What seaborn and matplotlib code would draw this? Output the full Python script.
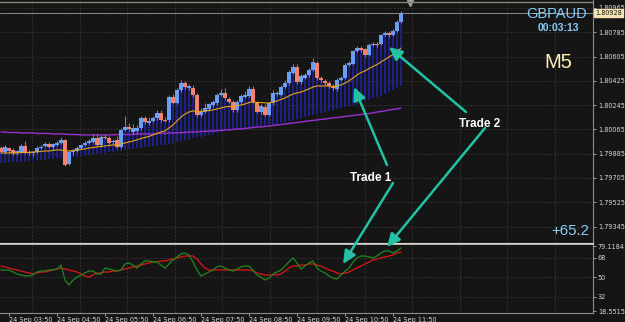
import numpy as np
import pandas as pd
import seaborn as sns
import matplotlib.pyplot as plt
from matplotlib.patches import FancyArrowPatch
from matplotlib.lines import Line2D
from matplotlib.transforms import blended_transform_factory

# GBPAUD M5 candles, 24 Sep 03:40 .. 12:00
opens = [1.79927, 1.79898, 1.79927, 1.79913, 1.79890, 1.79898, 1.79942, 1.79898, 1.79890, 1.79898,
         1.79927, 1.79942, 1.79957, 1.79935, 1.79950, 1.79964, 1.79987, 1.79809, 1.79898, 1.79905,
         1.79927, 1.79950, 1.79964, 1.79972, 1.80001, 1.79950, 1.80009, 1.80001, 1.79972, 1.79987,
         1.79935, 1.80061, 1.80083, 1.80046, 1.80053, 1.80076, 1.80150, 1.80113, 1.80128, 1.80150,
         1.80187, 1.80135, 1.80135, 1.80305, 1.80261, 1.80357, 1.80409, 1.80372, 1.80372, 1.80320,
         1.80172, 1.80194, 1.80216, 1.80246, 1.80261, 1.80320, 1.80335, 1.80290, 1.80268, 1.80209,
         1.80268, 1.80305, 1.80313, 1.80365, 1.80261, 1.80194, 1.80231, 1.80172, 1.80261, 1.80327,
         1.80320, 1.80379, 1.80409, 1.80483, 1.80528, 1.80416, 1.80446, 1.80468, 1.80505, 1.80557,
         1.80446, 1.80424, 1.80409, 1.80387, 1.80365, 1.80431, 1.80446, 1.80542, 1.80550, 1.80646,
         1.80668, 1.80661, 1.80616, 1.80691, 1.80698, 1.80698, 1.80765, 1.80780, 1.80765, 1.80794,
         1.80861]
closes = [1.79898, 1.79935, 1.79905, 1.79890, 1.79905, 1.79942, 1.79890, 1.79890, 1.79898, 1.79927,
          1.79935, 1.79957, 1.79935, 1.79957, 1.79964, 1.79987, 1.79801, 1.79898, 1.79905, 1.79927,
          1.79950, 1.79964, 1.79979, 1.80001, 1.79950, 1.80009, 1.80001, 1.79964, 1.79979, 1.79935,
          1.80061, 1.80083, 1.80068, 1.80076, 1.80076, 1.80150, 1.80120, 1.80128, 1.80150, 1.80187,
          1.80135, 1.80128, 1.80305, 1.80261, 1.80357, 1.80409, 1.80379, 1.80387, 1.80320, 1.80172,
          1.80194, 1.80224, 1.80253, 1.80268, 1.80320, 1.80335, 1.80298, 1.80268, 1.80209, 1.80268,
          1.80313, 1.80320, 1.80365, 1.80268, 1.80194, 1.80239, 1.80172, 1.80261, 1.80335, 1.80335,
          1.80379, 1.80409, 1.80491, 1.80528, 1.80416, 1.80461, 1.80468, 1.80505, 1.80565, 1.80446,
          1.80431, 1.80409, 1.80387, 1.80372, 1.80431, 1.80446, 1.80542, 1.80557, 1.80646, 1.80668,
          1.80654, 1.80616, 1.80691, 1.80698, 1.80691, 1.80765, 1.80780, 1.80765, 1.80794, 1.80861,
          1.80928]
highs = [1.79942, 1.79950, 1.79935, 1.79927, 1.79913, 1.79957, 1.79979, 1.79913, 1.79905, 1.79942,
         1.79950, 1.79972, 1.79972, 1.79964, 1.79979, 1.80009, 1.79994, 1.79913, 1.79920, 1.79942,
         1.79957, 1.79979, 1.79994, 1.80031, 1.80031, 1.80024, 1.80031, 1.80016, 1.79994, 1.80016,
         1.80076, 1.80164, 1.80113, 1.80105, 1.80098, 1.80164, 1.80164, 1.80157, 1.80164, 1.80209,
         1.80209, 1.80157, 1.80320, 1.80327, 1.80372, 1.80431, 1.80424, 1.80402, 1.80394, 1.80335,
         1.80224, 1.80261, 1.80261, 1.80283, 1.80335, 1.80365, 1.80372, 1.80305, 1.80283, 1.80283,
         1.80327, 1.80350, 1.80387, 1.80387, 1.80276, 1.80253, 1.80253, 1.80268, 1.80357, 1.80350,
         1.80394, 1.80431, 1.80505, 1.80550, 1.80550, 1.80476, 1.80483, 1.80520, 1.80594, 1.80572,
         1.80461, 1.80439, 1.80424, 1.80402, 1.80446, 1.80461, 1.80557, 1.80572, 1.80654, 1.80683,
         1.80683, 1.80668, 1.80705, 1.80713, 1.80713, 1.80772, 1.80794, 1.80794, 1.80809, 1.80876,
         1.80943]
lows = [1.79890, 1.79883, 1.79890, 1.79876, 1.79876, 1.79890, 1.79883, 1.79876, 1.79868, 1.79890,
        1.79920, 1.79935, 1.79927, 1.79920, 1.79942, 1.79957, 1.79794, 1.79801, 1.79876, 1.79898,
        1.79920, 1.79942, 1.79957, 1.79964, 1.79942, 1.79935, 1.79994, 1.79957, 1.79957, 1.79927,
        1.79927, 1.80053, 1.80053, 1.80031, 1.80039, 1.80061, 1.80105, 1.80098, 1.80120, 1.80135,
        1.80120, 1.80120, 1.80120, 1.80253, 1.80253, 1.80342, 1.80365, 1.80357, 1.80305, 1.80157,
        1.80157, 1.80187, 1.80202, 1.80231, 1.80246, 1.80313, 1.80283, 1.80261, 1.80194, 1.80194,
        1.80261, 1.80298, 1.80305, 1.80261, 1.80187, 1.80179, 1.80164, 1.80164, 1.80246, 1.80313,
        1.80313, 1.80372, 1.80394, 1.80476, 1.80402, 1.80402, 1.80439, 1.80453, 1.80498, 1.80431,
        1.80416, 1.80394, 1.80372, 1.80357, 1.80350, 1.80424, 1.80439, 1.80535, 1.80542, 1.80639,
        1.80639, 1.80602, 1.80609, 1.80683, 1.80676, 1.80691, 1.80757, 1.80750, 1.80757, 1.80787,
        1.80854]

# yellow fast MA, purple slow MA, lower edge of the navy histogram
ma_fast = [1.79890, 1.79890, 1.79890, 1.79890, 1.79890, 1.79894, 1.79894, 1.79894, 1.79898, 1.79898,
           1.79902, 1.79905, 1.79905, 1.79909, 1.79913, 1.79913, 1.79905, 1.79905, 1.79909, 1.79913,
           1.79916, 1.79920, 1.79927, 1.79931, 1.79935, 1.79939, 1.79942, 1.79946, 1.79950, 1.79950,
           1.79957, 1.79964, 1.79972, 1.79979, 1.79987, 1.79998, 1.80005, 1.80013, 1.80024, 1.80035,
           1.80046, 1.80053, 1.80076, 1.80098, 1.80128, 1.80157, 1.80179, 1.80194, 1.80202, 1.80198,
           1.80198, 1.80202, 1.80205, 1.80209, 1.80216, 1.80224, 1.80231, 1.80235, 1.80235, 1.80239,
           1.80246, 1.80253, 1.80264, 1.80268, 1.80264, 1.80264, 1.80261, 1.80261, 1.80268, 1.80276,
           1.80287, 1.80298, 1.80313, 1.80327, 1.80335, 1.80342, 1.80353, 1.80365, 1.80379, 1.80387,
           1.80387, 1.80387, 1.80387, 1.80383, 1.80387, 1.80394, 1.80409, 1.80424, 1.80446, 1.80468,
           1.80487, 1.80498, 1.80516, 1.80531, 1.80546, 1.80565, 1.80583, 1.80602, 1.80620, 1.80642,
           1.80668]
ma_slow = [1.80046, 1.80046, 1.80042, 1.80042, 1.80042, 1.80039, 1.80039, 1.80039, 1.80039, 1.80035,
           1.80035, 1.80035, 1.80035, 1.80031, 1.80031, 1.80031, 1.80031, 1.80027, 1.80027, 1.80027,
           1.80024, 1.80024, 1.80024, 1.80024, 1.80024, 1.80024, 1.80024, 1.80024, 1.80024, 1.80027,
           1.80027, 1.80027, 1.80027, 1.80027, 1.80031, 1.80031, 1.80031, 1.80031, 1.80031, 1.80035,
           1.80035, 1.80035, 1.80039, 1.80039, 1.80039, 1.80042, 1.80042, 1.80046, 1.80046, 1.80046,
           1.80050, 1.80050, 1.80053, 1.80053, 1.80057, 1.80057, 1.80061, 1.80061, 1.80064, 1.80068,
           1.80068, 1.80072, 1.80076, 1.80079, 1.80083, 1.80083, 1.80087, 1.80090, 1.80094, 1.80098,
           1.80101, 1.80105, 1.80109, 1.80113, 1.80116, 1.80120, 1.80124, 1.80128, 1.80131, 1.80135,
           1.80139, 1.80142, 1.80146, 1.80150, 1.80153, 1.80157, 1.80161, 1.80164, 1.80168, 1.80172,
           1.80176, 1.80179, 1.80183, 1.80187, 1.80194, 1.80198, 1.80202, 1.80209, 1.80213, 1.80216,
           1.80224]
band_low = [1.79816, 1.79816, 1.79820, 1.79820, 1.79824, 1.79824, 1.79827, 1.79831, 1.79831, 1.79835,
            1.79839, 1.79839, 1.79842, 1.79846, 1.79850, 1.79853, 1.79853, 1.79857, 1.79861, 1.79864,
            1.79868, 1.79872, 1.79876, 1.79879, 1.79883, 1.79887, 1.79890, 1.79894, 1.79898, 1.79902,
            1.79905, 1.79913, 1.79916, 1.79920, 1.79924, 1.79927, 1.79931, 1.79935, 1.79939, 1.79942,
            1.79946, 1.79950, 1.79957, 1.79964, 1.79972, 1.79979, 1.79987, 1.79994, 1.80001, 1.80005,
            1.80009, 1.80016, 1.80024, 1.80031, 1.80039, 1.80046, 1.80050, 1.80053, 1.80061, 1.80064,
            1.80068, 1.80072, 1.80076, 1.80079, 1.80083, 1.80087, 1.80090, 1.80098, 1.80101, 1.80105,
            1.80113, 1.80120, 1.80128, 1.80135, 1.80142, 1.80150, 1.80157, 1.80164, 1.80172, 1.80179,
            1.80187, 1.80194, 1.80202, 1.80209, 1.80216, 1.80224, 1.80231, 1.80239, 1.80246, 1.80253,
            1.80261, 1.80272, 1.80283, 1.80294, 1.80305, 1.80316, 1.80327, 1.80342, 1.80357, 1.80372,
            1.80387]

# oscillator sub-window (green fast, red slow)
rsi_fast = [56.8, 56.8, 56.8, 54.9, 53.0, 52.1, 51.2, 51.2, 52.1, 54.9,
            55.8, 55.8, 56.8, 56.8, 57.7, 61.4, 47.4, 42.8, 47.4, 50.2,
            52.1, 54.0, 55.8, 55.8, 53.0, 53.0, 58.6, 57.7, 56.8, 55.8,
            56.8, 62.4, 63.3, 61.4, 58.6, 62.4, 65.2, 65.2, 64.2, 64.2,
            61.4, 58.6, 62.4, 66.1, 68.9, 71.7, 72.6, 70.7, 64.2, 56.8,
            51.2, 53.0, 54.9, 56.8, 59.6, 60.5, 58.6, 56.8, 55.8, 57.7,
            59.6, 60.5, 60.5, 56.8, 52.1, 50.2, 47.4, 49.3, 53.0, 54.9,
            56.8, 60.5, 64.2, 68.0, 63.3, 57.7, 60.5, 63.3, 65.2, 58.6,
            55.8, 54.0, 51.2, 49.3, 48.4, 52.1, 55.8, 58.6, 64.2, 68.0,
            69.8, 69.8, 68.9, 68.0, 69.8, 72.6, 74.5, 74.5, 72.6, 74.5,
            77.3]
rsi_slow = [60.5, 59.6, 58.6, 57.7, 56.8, 55.8, 54.9, 54.0, 53.0, 54.0,
            54.9, 54.9, 55.8, 56.8, 57.7, 58.6, 57.7, 56.8, 55.8, 54.9,
            53.0, 51.2, 50.2, 52.1, 54.0, 54.0, 54.9, 54.9, 55.8, 55.8,
            56.8, 57.7, 58.6, 59.6, 60.5, 61.4, 62.4, 63.3, 64.2, 64.2,
            65.2, 65.2, 66.1, 67.0, 68.0, 68.9, 69.8, 69.8, 69.8, 67.0,
            62.4, 58.6, 56.8, 56.8, 56.8, 56.8, 56.8, 56.8, 56.8, 56.8,
            56.8, 56.8, 56.8, 55.8, 54.0, 53.0, 52.1, 52.1, 52.1, 52.1,
            53.0, 55.8, 58.6, 60.5, 60.5, 61.4, 61.4, 62.4, 62.4, 61.4,
            60.5, 58.6, 56.8, 55.8, 54.0, 53.0, 54.0, 54.9, 56.8, 58.6,
            60.5, 62.4, 64.2, 66.1, 67.0, 68.0, 68.9, 69.8, 70.7, 72.6,
            73.5]

price_ticks = [1.80965, 1.80785, 1.80605, 1.80425, 1.80245, 1.80065, 1.79885, 1.79705, 1.79525, 1.79345]
rsi_ticks = [79.1184, 68, 50, 32, 18.5515]
rsi_tick_labels = ["79.1184", "68", "50", "32", "18.5515"]
time_labels = ["24 Sep 03:50", "24 Sep 04:50", "24 Sep 05:50", "24 Sep 06:50", "24 Sep 07:50",
               "24 Sep 08:50", "24 Sep 09:50", "24 Sep 10:50", "24 Sep 11:50"]
time_label_bars = [2, 14, 26, 38, 50, 62, 74, 86, 98]

BG = "#151515"
GRID = "#3a3a3a"
TXT = "#d8d8d8"
sns.set_theme(style="dark", rc={"axes.facecolor": BG, "figure.facecolor": BG})
plt.rcParams["font.family"] = ["DejaVu Sans"]

df = pd.DataFrame({"bar": np.arange(len(opens)), "open": opens, "close": closes,
                   "high": highs, "low": lows, "ma_fast": ma_fast, "ma_slow": ma_slow,
                   "band": band_low, "rsi_fast": rsi_fast, "rsi_slow": rsi_slow})
df["body_lo"] = df[["open", "close"]].min(axis=1)
df["body_hi"] = df[["open", "close"]].max(axis=1)
df["up"] = df["close"] >= df["open"]

W, H = 625, 322
fig = plt.figure(figsize=(W / 100, H / 100), dpi=100)


def fx(px):
    return px / W


def fy(py):
    return 1 - py / H


ax = fig.add_axes([0, fy(243), fx(593), fy(0) - fy(243)])
ax2 = fig.add_axes([0, fy(313), fx(593), fy(244) - fy(313)])

# navy histogram behind candles
ax.bar(df["bar"], df["body_hi"] - df["band"], bottom=df["band"], width=0.6,
       color="#1f1f86", linewidth=0, zorder=1, antialiased=False)
sns.lineplot(x=df["bar"], y=df["ma_slow"], ax=ax, color="#9b30d0", linewidth=1.0, zorder=2)
ax.axhline(closes[-1], color="#9a9a9a", lw=0.6, zorder=2)
ax.vlines(df["bar"], df["low"], df["high"], color="#8a8a8a", lw=0.7, zorder=4)
body_colors = np.where(df["up"], "#6d9ff0", "#f5826e")
ax.bar(df["bar"], np.maximum(df["body_hi"] - df["body_lo"], 0.00003), bottom=df["body_lo"],
       width=0.8, color=body_colors, linewidth=0, zorder=5, antialiased=False)
sns.lineplot(x=df["bar"], y=df["ma_fast"], ax=ax, color="#e8a317", linewidth=0.8, zorder=6)

sns.lineplot(x=df["bar"], y=df["rsi_slow"], ax=ax2, color="#e01515", linewidth=0.9, zorder=3)
sns.lineplot(x=df["bar"], y=df["rsi_fast"], ax=ax2, color="#1d8a1d", linewidth=0.9, zorder=4)

grid_pos = np.arange(7.75, 148, 11.875)
for a in (ax, ax2):
    a.set_xlim(-0.25, 148)
    a.set_xlabel("")
    a.set_ylabel("")
    a.set_xticks(grid_pos, minor=True)
    a.grid(which="minor", axis="x", color=GRID, lw=0.6, ls=(0, (2, 2)))
    a.tick_params(axis="x", which="minor", length=0)
    a.spines["left"].set_visible(False)
    a.spines["right"].set_color("#8c8c8c")
    a.spines["right"].set_linewidth(0.8)

ax.set_ylim(1.79223, 1.81024)
ax.set_yticks(price_ticks)
ax.set_yticklabels([f"{t:.5f}" for t in price_ticks])
ax.grid(which="major", axis="y", color=GRID, lw=0.6, ls=(0, (2, 2)))
ax.set_xticks([])
ax.spines["top"].set_visible(False)
ax.spines["bottom"].set_color("#d8d6cc")
ax.spines["bottom"].set_linewidth(0.8)

ax2.set_ylim(16.69, 80.99)
ax2.set_yticks(rsi_ticks)
ax2.set_yticklabels(rsi_tick_labels)
for lvl in rsi_ticks[1:4]:
    ax2.axhline(lvl, color=GRID, lw=0.6, ls=(0, (2, 2)), zorder=1)
ax2.set_xticks(time_label_bars)
ax2.set_xticklabels(time_labels)
for lbl in ax2.get_xticklabels():
    lbl.set_ha("left")
ax2.spines["top"].set_color("#b8b6ae")
ax2.spines["top"].set_linewidth(0.7)
ax2.spines["bottom"].set_color("#8c8c8c")
ax2.spines["bottom"].set_linewidth(0.8)

for a in (ax, ax2):
    a.yaxis.tick_right()
    a.tick_params(axis="y", which="major", right=True, left=False, labelright=True,
                  labelleft=False, labelsize=4.7, colors=TXT, length=2, width=0.5, pad=1.5)
ax2.tick_params(axis="x", which="major", bottom=True, labelsize=4.7, colors=TXT,
                length=2, width=0.5, pad=1)

# current bid box on the price scale
bt = blended_transform_factory(ax.transAxes, ax.transData)
ax.text(1.004, closes[-1], f"{closes[-1]:.5f}", transform=bt, ha="left", va="center",
        fontsize=4.7, color="#111111", clip_on=False, zorder=10,
        bbox=dict(boxstyle="square,pad=0.18", fc="#f3e3b5", ec="#f3e3b5"))

# chart top border and shift marker
fig.add_artist(Line2D([0, fx(593)], [fy(1.5), fy(1.5)], color="#8a8272", lw=1.0))
ax.plot([410 / 593], [1 - 3 / 243], transform=ax.transAxes, marker="v", ms=4,
        color="#a0a0a0", clip_on=False, zorder=10)

# labels
fig.text(fx(556.5), fy(18.5), "GBPAUD", ha="center", va="baseline", color="#87cefa",
         fontsize=10.5, family="Liberation Sans")
fig.text(fx(558), fy(31), "00:03:13", ha="center", va="baseline", color="#87cefa",
         fontsize=7.5, fontweight="bold", family="Liberation Sans")
fig.text(fx(558), fy(68), "M5", ha="center", va="baseline", color="#fdf0b4",
         fontsize=14.5, family="Liberation Sans")
fig.text(fx(589.5), fy(235), "+65.2", ha="right", va="baseline", color="#87cefa",
         fontsize=10.8, family="Liberation Sans")
fig.text(fx(480), fy(127), "Trade 2", ha="center", va="baseline", color="white",
         fontsize=8.5, fontweight="bold", family="Liberation Sans")
fig.text(fx(370.5), fy(181), "Trade 1", ha="center", va="baseline", color="white",
         fontsize=8.5, fontweight="bold", family="Liberation Sans")

arrows = [((387, 165), (354, 87)), ((393, 183), (343, 264)),
          ((466, 112), (389, 47)), ((485, 128), (387, 247))]
for (x0, y0), (x1, y1) in arrows:
    arr = FancyArrowPatch((fx(x0), fy(y0)), (fx(x1), fy(y1)), transform=fig.transFigure,
                          arrowstyle="-|>,head_length=0.6,head_width=0.28", mutation_scale=13,
                          color="#22c2a4", lw=1.8, shrinkA=0, shrinkB=0, zorder=20)
    fig.add_artist(arr)

fig.savefig("out.png", dpi=100, facecolor=fig.get_facecolor())
